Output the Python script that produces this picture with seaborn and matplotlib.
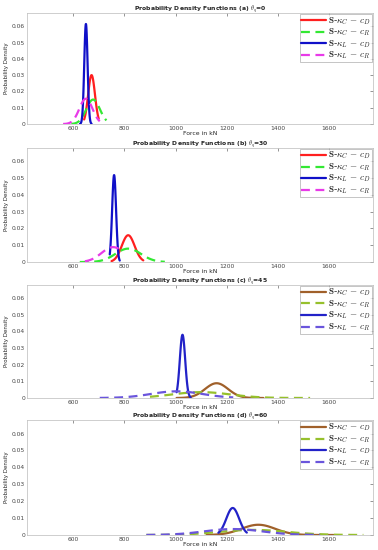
import numpy as np
import pandas as pd
import matplotlib
matplotlib.use("Agg")
import matplotlib.pyplot as plt
import seaborn as sns

# values: peak location, spread and drawn range of each curve
panels = ["(a) $\\theta_q$=0", "(b) $\\theta_q$=30", "(c) $\\theta_q$=45", "(d) $\\theta_q$=60"]
series = ["S-kC-cD", "S-kC-cR", "S-kL-cD", "S-kL-cR"]
labels = [r"$\mathbf{S}$-$\kappa_C$ $-$ $c_D$", r"$\mathbf{S}$-$\kappa_C$ $-$ $c_R$",
          r"$\mathbf{S}$-$\kappa_L$ $-$ $c_D$", r"$\mathbf{S}$-$\kappa_L$ $-$ $c_R$"]

means = [[672, 678, 650, 650],
         [815, 815, 760, 756],
         [1160, 1100, 1027, 1004],
         [1323, 1303, 1223, 1225]]
sds = [[13.3, 26.6, 6.5, 25.7],
       [25, 50, 7.7, 45],
       [45, 114, 10.5, 100],
       [66, 133, 25, 114]]
x_lo = [[643, 593, 627, 561],
        [750, 626, 743, 646],
        [1004, 900, 1004, 704],
        [1121, 886, 1167, 886]]
x_hi = [[700, 730, 672, 704],
        [874, 958, 782, 795],
        [1343, 1525, 1059, 1225],
        [1616, 1733, 1278, 1564]]

colors_ab = ["#ff1f1f", "#33e833", "#1010c8", "#e83ae8"]
colors_cd = ["#a0602a", "#96c02c", "#2222c8", "#6a55dc"]
dashes = {"S-kC-cD": "", "S-kC-cR": (4, 2.5), "S-kL-cD": "", "S-kL-cR": (4, 2.5)}

xticks = [600, 800, 1000, 1200, 1400, 1600]
yticks = [0, 0.01, 0.02, 0.03, 0.04, 0.05, 0.06]

sns.set_style("white")
plt.rcParams["mathtext.fontset"] = "cm"

fig = plt.figure(figsize=(3.78, 5.5), dpi=100)
tops = [0.976, 0.731, 0.482, 0.2364]
bottoms = [0.7745, 0.5236, 0.2764, 0.0273]

for p in range(4):
    ax = fig.add_axes([0.0714, bottoms[p], 0.915, tops[p] - bottoms[p]])
    rows = []
    for s in range(4):
        xs = np.linspace(x_lo[p][s], x_hi[p][s], 120)
        ys = np.exp(-0.5 * ((xs - means[p][s]) / sds[p][s]) ** 2) / (sds[p][s] * np.sqrt(2 * np.pi))
        rows.append(pd.DataFrame({"x": xs, "y": ys, "series": series[s]}))
    df = pd.concat(rows)
    pal = colors_ab if p < 2 else colors_cd
    sns.lineplot(data=df, x="x", y="y", hue="series", style="series", dashes=dashes,
                 palette=dict(zip(series, pal)), linewidth=1.6, ax=ax, sort=False)
    ax.set_xlim(420, 1770)
    ax.set_ylim(0, 0.068)
    ax.set_xticks(xticks)
    ax.set_xticklabels([str(t) for t in xticks])
    ax.set_yticks(yticks)
    ax.set_yticklabels(["0"] + ["%.2f" % t for t in yticks[1:]])
    ax.tick_params(labelsize=4.3, colors="#444444", direction="in", length=2, width=0.4,
                   top=True, right=True, pad=1.5)
    for sp in ax.spines.values():
        sp.set_color("#bbbbbb")
        sp.set_linewidth(0.5)
    ax.set_title("Probability Density Functions " + panels[p], fontsize=4.4,
                 fontweight="bold", pad=1.5)
    ax.set_xlabel("Force in kN", fontsize=4.4, labelpad=0)
    ax.set_ylabel("Probability Density", fontsize=4.0, labelpad=2)
    h, l = ax.get_legend_handles_labels()
    leg = ax.legend(h, labels, loc="upper right", fontsize=6.6, frameon=True, fancybox=False,
                    borderaxespad=0.1, handlelength=2.8, labelspacing=0.0, handleheight=0.4,
                    handletextpad=0.2, borderpad=0.1)
    leg.get_frame().set_edgecolor("#999999")
    leg.get_frame().set_linewidth(0.5)

fig.savefig("out.png", dpi=100)
